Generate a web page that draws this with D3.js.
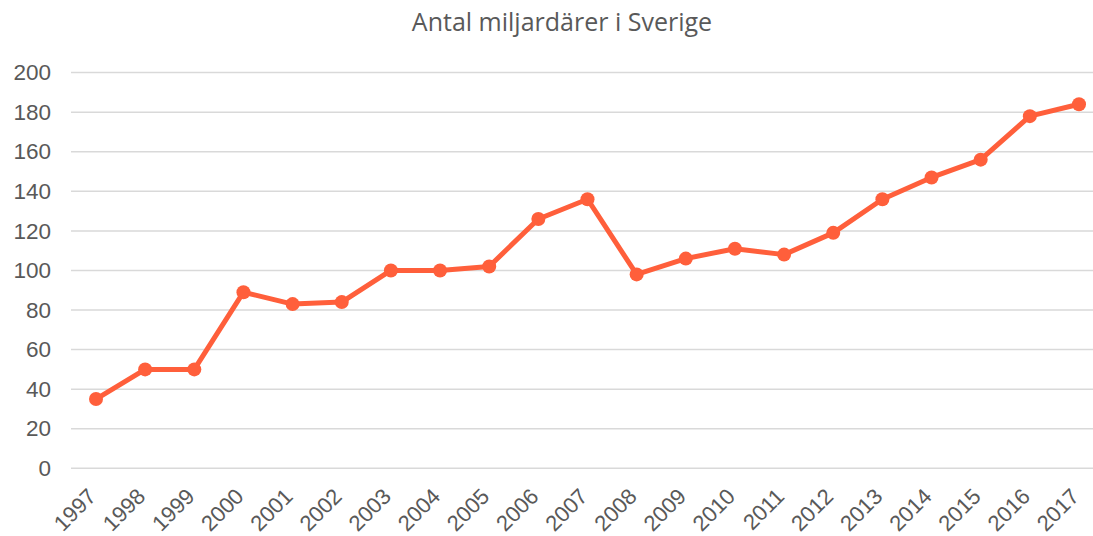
<!DOCTYPE html>
<html>
<head>
<meta charset="utf-8">
<script src="https://cdn.jsdelivr.net/npm/d3@7"></script>
<style>
  body { margin: 0; background: #fff; }
  .axis text { font-family: "Liberation Sans", Arial, sans-serif; font-size: 22.5px; fill: #595959; }
  .x.axis text { font-size: 22px; }
</style>
</head>
<body>
<svg id="chart" width="1093" height="536"></svg>
<script>
// data
var years = ["1997","1998","1999","2000","2001","2002","2003","2004","2005","2006","2007",
             "2008","2009","2010","2011","2012","2013","2014","2015","2016","2017"];
var billionaires = [35, 50, 50, 89, 83, 84, 100, 100, 102, 126, 136,
                    98, 106, 111, 108, 119, 136, 147, 156, 178, 184];
var yTicks = [0, 20, 40, 60, 80, 100, 120, 140, 160, 180, 200];

var svg = d3.select("#chart");
var plotLeft = 71, plotRight = 1093, plotBottom = 468.3;

var x = d3.scalePoint().domain(years).range([96, 1079]);
var y = d3.scaleLinear().domain([0, 200]).range([plotBottom, 72.6]);

// titre
svg.append("text")
    .attr("x", 562)
    .attr("y", 31)
    .attr("text-anchor", "middle")
    .style("font-family", "'Open Sans', sans-serif")
    .style("font-size", "25px")
    .style("fill", "#595959")
    .text("Antal miljardärer i Sverige");

// grille
svg.append("g")
    .selectAll("line")
    .data(yTicks)
    .enter().append("line")
    .attr("x1", plotLeft)
    .attr("x2", plotRight)
    .attr("y1", function (d) { return y(d); })
    .attr("y2", function (d) { return y(d); })
    .attr("stroke", "#d9d9d9")
    .attr("stroke-width", 1.5);

// axe y
var yAxis = svg.append("g")
    .attr("class", "y axis")
    .attr("transform", "translate(" + plotLeft + ",0)")
    .call(d3.axisLeft(y).tickValues(yTicks).tickSize(0).tickPadding(20));
yAxis.select(".domain").remove();

// axe x
var xAxis = svg.append("g")
    .attr("class", "x axis")
    .attr("transform", "translate(0," + plotBottom + ")")
    .call(d3.axisBottom(x).tickSize(0));
xAxis.select(".domain").remove();
xAxis.selectAll("text")
    .attr("text-anchor", "end")
    .attr("y", 0)
    .attr("dy", 0)
    .attr("transform", "translate(1,29.5) rotate(-45)");

// ligne
var line = d3.line()
    .x(function (d, i) { return x(years[i]); })
    .y(function (d) { return y(d); });

svg.append("path")
    .datum(billionaires)
    .attr("fill", "none")
    .attr("stroke", "#ff5f3b")
    .attr("stroke-width", 5)
    .attr("stroke-linejoin", "round")
    .attr("d", line);

svg.append("g")
    .selectAll("circle")
    .data(billionaires)
    .enter().append("circle")
    .attr("cx", function (d, i) { return x(years[i]); })
    .attr("cy", function (d) { return y(d); })
    .attr("r", 7)
    .attr("fill", "#ff5f3b");
</script>
</body>
</html>
